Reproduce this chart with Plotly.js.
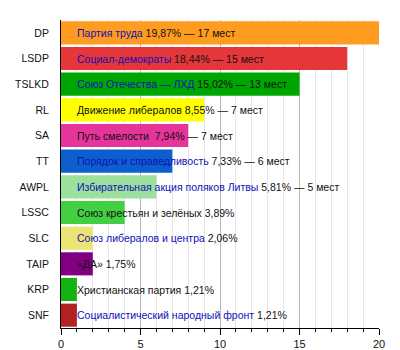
<!DOCTYPE html>
<html>
<head>
<meta charset="utf-8">
<script src="https://cdn.plot.ly/plotly-3.0.1.min.js"></script>
<style>html,body{margin:0;padding:0;background:#fff;}#chart{width:400px;height:350px;}</style>
</head>
<body>
<div id="chart"></div>
<script>
const categories = ['DP','LSDP','TSLKD','RL','SA','TT','AWPL','LSSC','SLC','TAIP','KRP','SNF'];
const barValues = [20, 18, 15, 9, 8, 7, 6, 4, 2, 2, 1, 1];
const partyNames = ['Партия труда','Социал-демократы','Союз Отечества — ЛХД','Движение либералов','Путь смелости\u00a0','Порядок и справедливость','Избирательная акция поляков Литвы','Союз крестьян и зелёных','Союз либералов и центра','«ДА»','Христианская партия','Социалистический народный фронт'];
const resultTexts = ['19,87% — 17 мест','18,44% — 15 мест','15,02% — 13 мест','8,55% — 7 мест','7,94% — 7 мест','7,33% — 6 мест','5,81% — 5 мест','3,89%','2,06%','1,75%','1,21%','1,21%'];
const nameIsLink = [true,true,true,false,false,true,true,false,true,false,false,true];
const barColors = ['#ff9b1f','#e5363a','#00a600','#ffff00','#e5349a','#0d5fcd','#9ddf9d','#42d042','#ede573','#800080','#13b313','#b22222'];

const linkColor = '#1010b8';
const annotations = categories.map((c, i) => ({
  x: 0, y: c, xref: 'x', yref: 'y',
  xanchor: 'left', yanchor: 'middle', xshift: 14,
  showarrow: false,
  text: (nameIsLink[i] ? '<span style="color:' + linkColor + '">' + partyNames[i] + '</span>' : partyNames[i]) + ' ' + resultTexts[i],
  font: {family: 'Liberation Sans, Arial, sans-serif', size: 10.5, color: '#111'}
}));

const trace = {
  type: 'bar', orientation: 'h',
  x: barValues, y: categories,
  marker: {color: barColors, line: {width: 0}},
  hoverinfo: 'none'
};

const layout = {
  width: 400, height: 350,
  margin: {l: 61, r: 21, t: 20, b: 22},
  paper_bgcolor: '#fff', plot_bgcolor: '#fff',
  bargap: 0.1,
  showlegend: false,
  font: {family: 'Liberation Sans, Arial, sans-serif', size: 11, color: '#111'},
  xaxis: {
    range: [0, 20], dtick: 5, tick0: 0,
    showgrid: true, gridcolor: '#b8b8b8', gridwidth: 1,
    zeroline: false,
    showline: true, linecolor: '#000', linewidth: 1,
    ticks: 'outside', ticklen: 6, tickcolor: '#000',
    tickfont: {size: 11, color: '#111'},
    minor: {dtick: 1, showgrid: true, gridcolor: '#e6e6e6', ticks: 'outside', ticklen: 3, tickcolor: '#000'},
    fixedrange: true
  },
  yaxis: {
    autorange: 'reversed',
    showline: true, linecolor: '#000', linewidth: 1,
    ticks: '', showgrid: false, zeroline: false,
    tickfont: {size: 10.5, color: '#111'},
    ticklabelstandoff: 9,
    fixedrange: true
  },
  annotations: annotations
};

Plotly.newPlot('chart', [trace], layout, {staticPlot: true, displayModeBar: false});
</script>
</body>
</html>
